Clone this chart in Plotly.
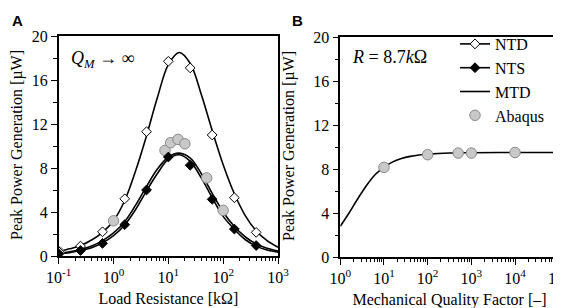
import plotly.graph_objects as go

# ---------------- Data ----------------
# Panel A: curves sampled along load resistance (kOhm)
curve_R = [0.1, 0.158, 0.251, 0.398, 0.631, 1.0, 1.585, 2.512, 3.981, 6.31, 10.0,
           15.85, 25.12, 39.81, 63.1, 100.0, 158.5, 251.2, 398.1, 631.0, 1000.0]
ntd_curve = [0.4, 0.65, 0.95, 1.45, 2.15, 3.2, 5.0, 7.7, 10.9, 14.4, 17.4,
             18.5, 17.5, 14.7, 11.4, 8.3, 5.7, 3.7, 2.3, 1.4, 0.8]
nts_curve = [0.2, 0.3, 0.5, 0.75, 1.2, 1.85, 2.8, 4.2, 5.9, 7.5, 8.8,
             9.2, 8.6, 7.1, 5.3, 3.6, 2.45, 1.5, 0.9, 0.55, 0.35]
mtd_curve = [0.25, 0.38, 0.6, 0.9, 1.4, 2.1, 3.1, 4.6, 6.3, 7.9, 9.0,
             9.35, 8.9, 7.5, 5.7, 4.0, 2.7, 1.75, 1.1, 0.7, 0.45]

# Panel A: discrete markers
marker_R = [0.1, 0.25, 0.63, 1.6, 4.0, 10.0, 25.0, 63.0, 160.0, 400.0]
ntd_pts = [0.4, 0.9, 2.2, 5.2, 11.3, 17.7, 17.1, 11.0, 5.3, 2.15]
nts_pts = [0.2, 0.5, 1.15, 2.85, 6.0, 9.0, 8.25, 5.15, 2.45, 0.95]
abaqus_R = [0.1, 1.0, 8.7, 11.0, 15.0, 20.0, 50.0, 100.0]
abaqus_A = [0.35, 3.2, 9.6, 10.3, 10.6, 10.2, 7.1, 4.15]

# Panel B: mechanical quality factor
curve_Q = [1, 1.585, 2.512, 3.981, 6.31, 10, 15.85, 25.12, 39.81, 63.1, 100,
           316.2, 1000, 10000, 100000]
mtd_B = [2.8, 4.0, 5.3, 6.5, 7.5, 8.15, 8.65, 8.95, 9.15, 9.28, 9.35,
         9.45, 9.48, 9.5, 9.5]
abaqus_Q = [10, 100, 500, 1000, 10000]
abaqus_B = [8.15, 9.3, 9.45, 9.45, 9.5]

# Tick labels
ticks_A = [0.1, 1, 10, 100, 1000]
ticktext_A = ["10<sup>-1</sup>", "10<sup>0</sup>", "10<sup>1</sup>", "10<sup>2</sup>", "10<sup>3</sup>"]
ticks_B = [1, 10, 100, 1000, 10000, 100000]
ticktext_B = ["10<sup>0</sup>", "10<sup>1</sup>", "10<sup>2</sup>", "10<sup>3</sup>",
              "10<sup>4</sup>", "10<sup>5</sup>"]

# ---------------- Figure ----------------
W, H = 561, 308
SERIF = "Times New Roman, Liberation Serif, serif"
SANS = "Arial, Liberation Sans, sans-serif"
fig = go.Figure()

LW = 1.6
circle = dict(symbol="circle", size=10.5, color="#c8c8c8", line=dict(color="#8a8a8a", width=1))
dia_w = dict(symbol="diamond", size=7.5, color="white", line=dict(color="black", width=1))
dia_b = dict(symbol="diamond", size=7.5, color="black", line=dict(color="black", width=1))

# Panel A curves
for ys in (ntd_curve, nts_curve, mtd_curve):
    fig.add_trace(go.Scatter(x=curve_R, y=ys, mode="lines", line=dict(color="black", width=LW, shape="spline"),
                             showlegend=False, xaxis="x", yaxis="y", hoverinfo="skip"))
fig.add_trace(go.Scatter(x=abaqus_R, y=abaqus_A, mode="markers", marker=circle, showlegend=False,
                         xaxis="x", yaxis="y"))
fig.add_trace(go.Scatter(x=marker_R, y=ntd_pts, mode="markers", marker=dia_w, showlegend=False,
                         xaxis="x", yaxis="y"))
fig.add_trace(go.Scatter(x=marker_R, y=nts_pts, mode="markers", marker=dia_b, showlegend=False,
                         xaxis="x", yaxis="y"))

# Panel B
fig.add_trace(go.Scatter(x=curve_Q, y=mtd_B, mode="lines", line=dict(color="black", width=LW, shape="spline"),
                         showlegend=False, xaxis="x2", yaxis="y2"))
fig.add_trace(go.Scatter(x=abaqus_Q, y=abaqus_B, mode="markers", marker=circle, showlegend=False,
                         xaxis="x2", yaxis="y2"))

# Legend entries
fig.add_trace(go.Scatter(x=[None], y=[None], mode="lines+markers", name="NTD",
                         line=dict(color="black", width=LW), marker=dia_w, xaxis="x2", yaxis="y2"))
fig.add_trace(go.Scatter(x=[None], y=[None], mode="lines+markers", name="NTS",
                         line=dict(color="black", width=LW), marker=dia_b, xaxis="x2", yaxis="y2"))
fig.add_trace(go.Scatter(x=[None], y=[None], mode="lines", name="MTD",
                         line=dict(color="black", width=LW), xaxis="x2", yaxis="y2"))
fig.add_trace(go.Scatter(x=[None], y=[None], mode="markers", name="Abaqus",
                         marker=circle, xaxis="x2", yaxis="y2"))

minor_common = dict(ticks="outside", ticklen=3.5, tickwidth=1, tickcolor="black", showgrid=False)
axis_common = dict(showline=True, linecolor="black", linewidth=1.5, mirror=True, showgrid=False,
                   zeroline=False, ticks="outside", ticklen=6, tickwidth=1.2, tickcolor="black",
                   tickfont=dict(family=SERIF, size=16, color="black"), automargin=False,
                   ticklabeloverflow="allow")
title_font = dict(family=SERIF, size=16, color="black")

xa = dict(axis_common, type="log", range=[-1, 3], tickmode="array", tickvals=ticks_A, ticktext=ticktext_A,
          domain=[50.7 / W, 270 / W], anchor="y", minor=dict(minor_common, dtick="D1"),
          title=dict(text="Load Resistance [kΩ]", font=title_font, standoff=8))
xb = dict(axis_common, type="log", range=[0, 5], tickmode="array", tickvals=ticks_B, ticktext=ticktext_B,
          domain=[332.3 / W, 550.7 / W], anchor="y2", minor=dict(minor_common, dtick="D1"),
          title=dict(text="Mechanical Quality Factor [–]", font=title_font, standoff=8))
ya = dict(axis_common, range=[0, 20], dtick=4, domain=[1 - 248 / H, 1 - 28 / H], anchor="x",
          minor=dict(minor_common, dtick=2))
yb = dict(axis_common, range=[0, 20], dtick=4, domain=[1 - 249 / H, 1 - 29 / H], anchor="x2",
          minor=dict(minor_common, dtick=2))

ytitle = "Peak Power Generation [µW]"

fig.update_layout(
    width=W, height=H, margin=dict(l=0, r=0, t=0, b=0),
    paper_bgcolor="white", plot_bgcolor="white",
    font=dict(family=SERIF, size=16, color="black"),
    xaxis=xa, yaxis=ya, xaxis2=xb, yaxis2=yb,
    legend=dict(x=447 / W, y=1 - 19 / H, xanchor="left", yanchor="top", bgcolor="rgba(0,0,0,0)",
                font=dict(family=SERIF, size=16, color="black"), tracegroupgap=0, itemwidth=30),
    annotations=[
        dict(text=ytitle, x=9 / W, y=1 - 137 / H, xref="paper", yref="paper", xanchor="center",
             yanchor="middle", textangle=-90, showarrow=False, font=title_font),
        dict(text=ytitle, x=281 / W, y=1 - 138 / H, xref="paper", yref="paper", xanchor="center",
             yanchor="middle", textangle=-90, showarrow=False, font=title_font),
        dict(text="<b>A</b>", x=2 / W, y=1 - 2 / H, xref="paper", yref="paper", xanchor="left", yanchor="top",
             showarrow=False, font=dict(family=SANS, size=15, color="black")),
        dict(text="<b>B</b>", x=282 / W, y=1 - 2 / H, xref="paper", yref="paper", xanchor="left", yanchor="top",
             showarrow=False, font=dict(family=SANS, size=15, color="black")),
        dict(text="<i>Q</i><sub><i>M</i></sub> → ∞", x=61 / W, y=1 - 52 / H, xref="paper", yref="paper",
             xanchor="left", yanchor="middle", showarrow=False, font=dict(family=SERIF, size=18, color="black")),
        dict(text="<i>R</i> = 8.7<i>k</i>Ω", x=342 / W, y=1 - 49 / H, xref="paper", yref="paper",
             xanchor="left", yanchor="middle", showarrow=False, font=dict(family=SERIF, size=18, color="black")),
    ],
)

fig.write_html("out.html")
